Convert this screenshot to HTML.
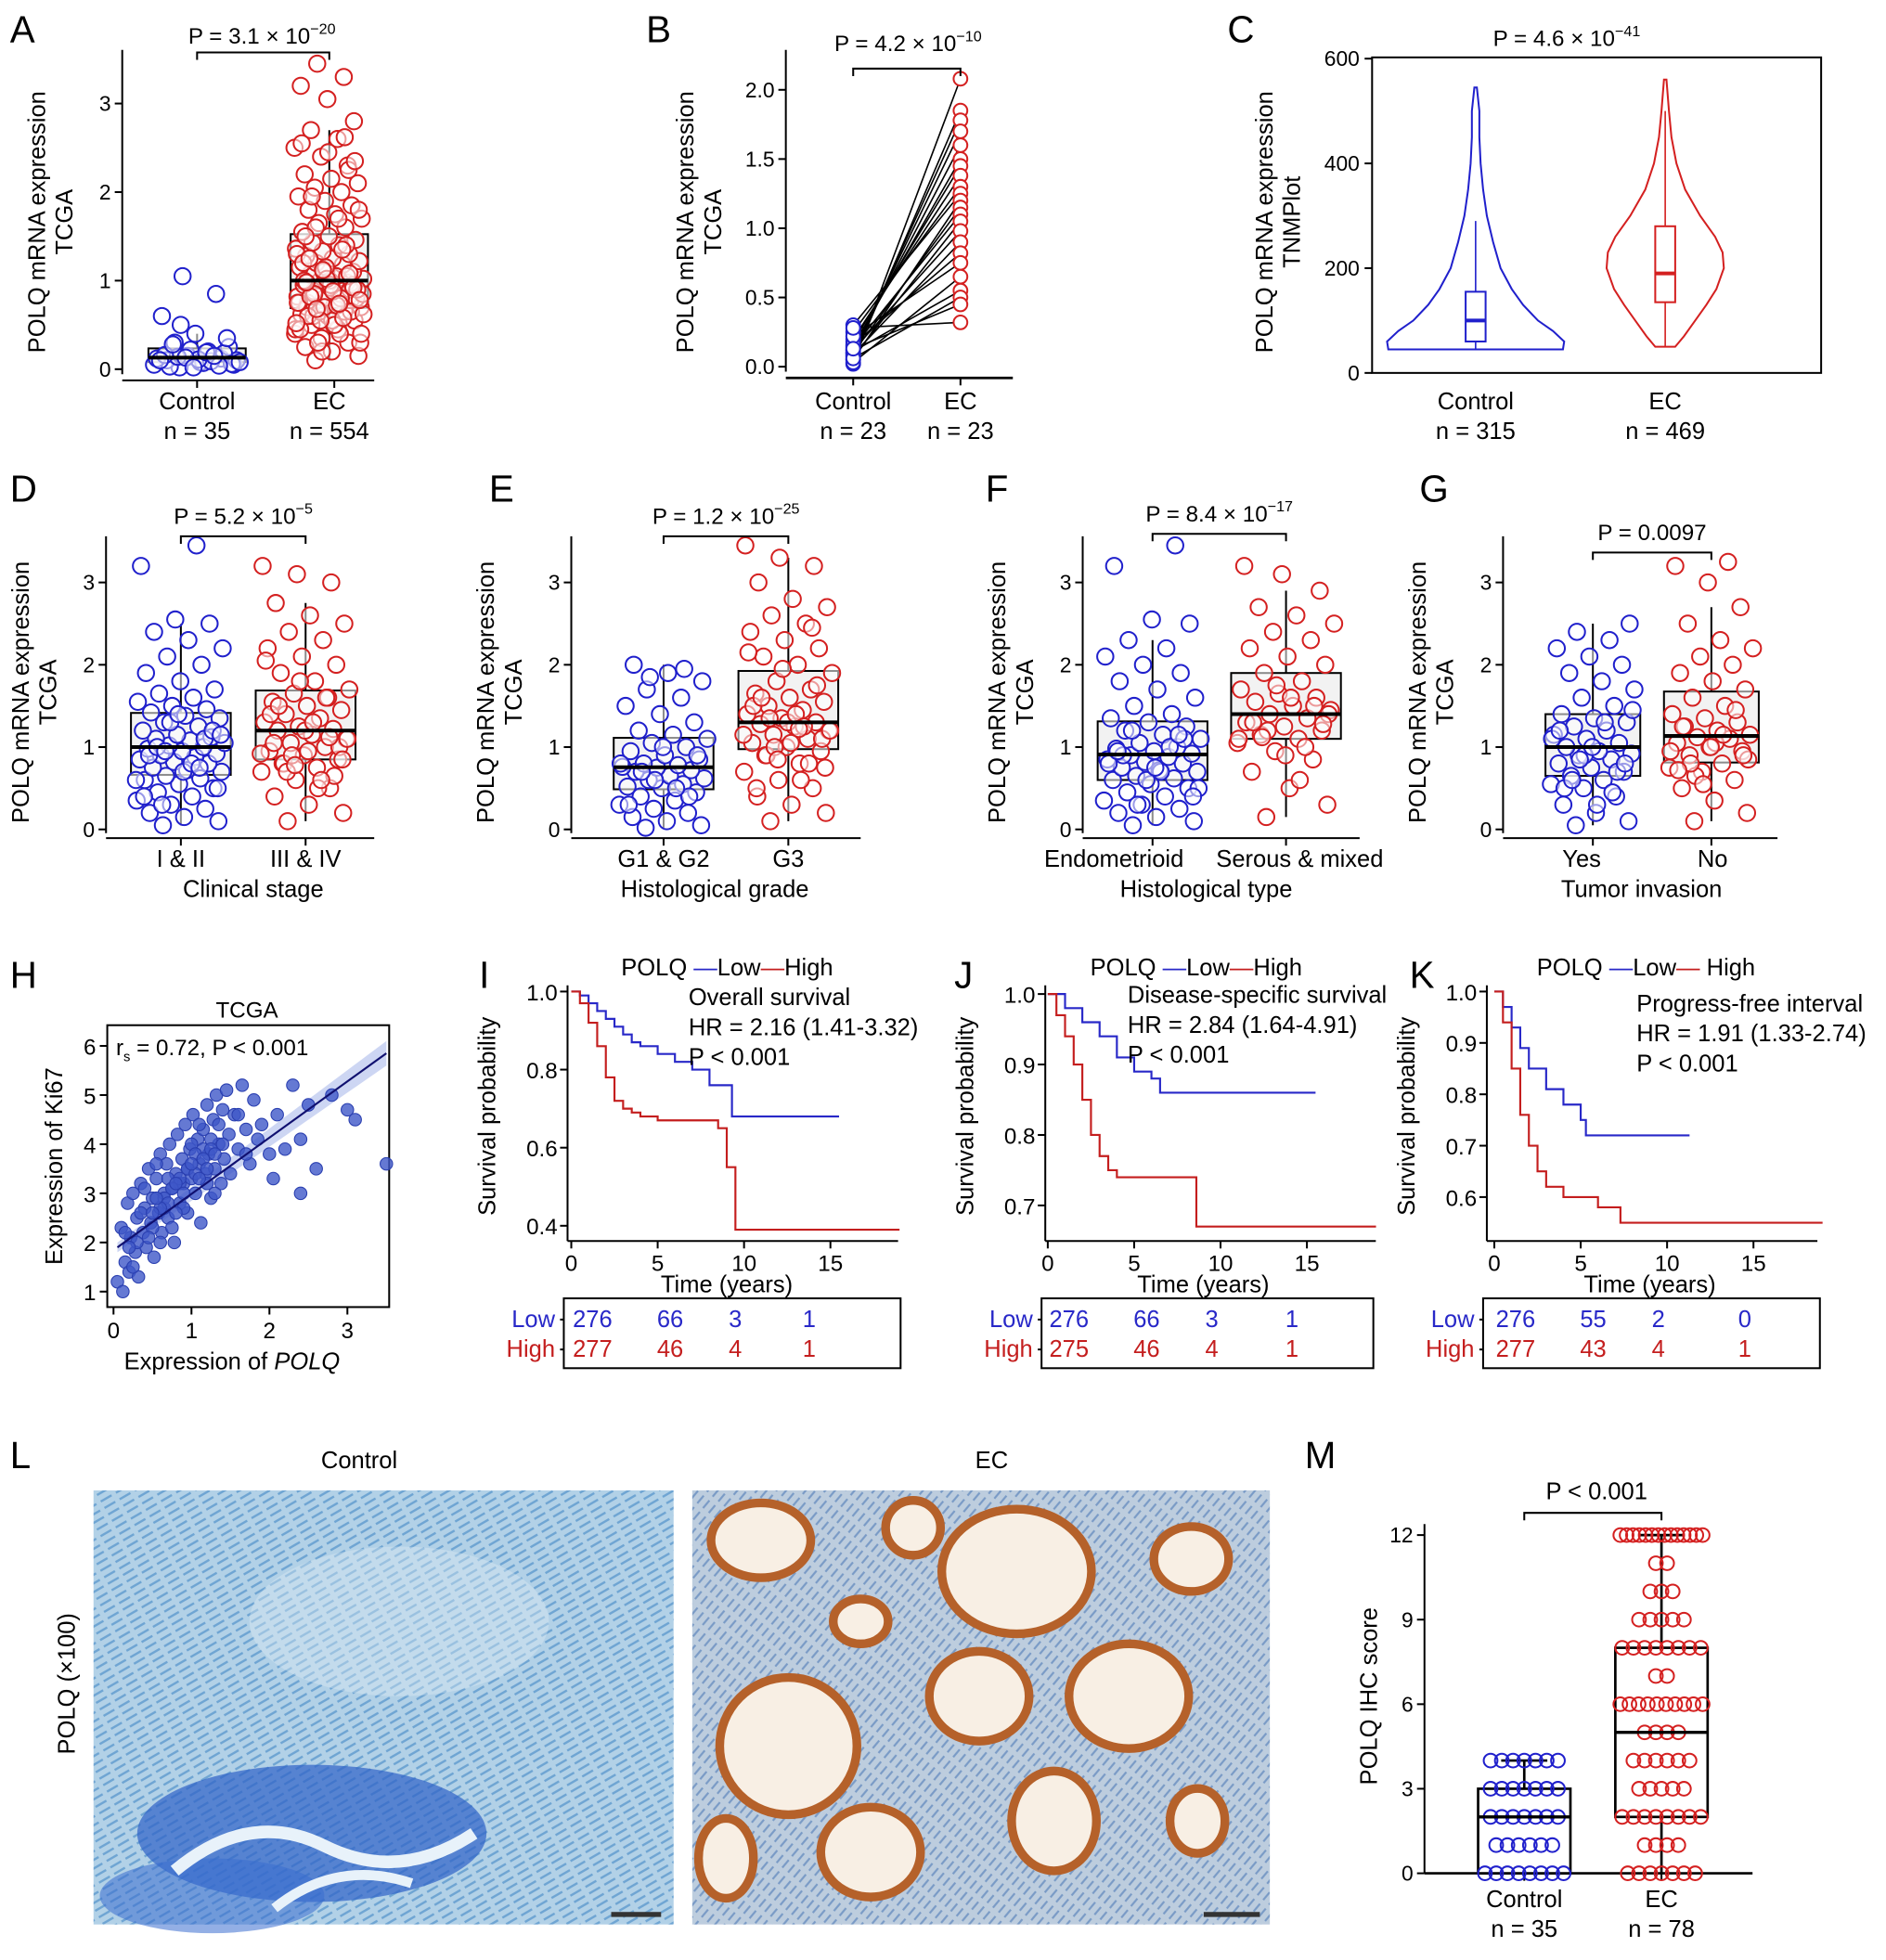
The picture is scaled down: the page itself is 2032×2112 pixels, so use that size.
<!DOCTYPE html>
<html><head><meta charset="utf-8">
<style>
html,body{margin:0;padding:0;background:#fff;}
svg{display:block;font-family:"Liberation Sans",Arial,sans-serif;}
</style></head>
<body>
<svg id="fig" width="2032" height="2112" viewBox="0 0 1512 1571.5" xmlns="http://www.w3.org/2000/svg">
<rect x="0" y="0" width="1512" height="1572" fill="#fff"/>
<g font-size="30" fill="#000">
<text x="8" y="34">A</text><text x="518" y="34">B</text><text x="984" y="34">C</text>
<text x="8" y="402">D</text><text x="392" y="402">E</text><text x="790" y="402">F</text><text x="1138" y="402">G</text>
<text x="8" y="792">H</text><text x="384" y="792">I</text><text x="765" y="792">J</text><text x="1130" y="792">K</text>
<text x="8" y="1177">L</text><text x="1046" y="1177">M</text>
</g>
<defs>
<pattern id="fib1" width="14" height="6" patternUnits="userSpaceOnUse" patternTransform="rotate(-30)">
<rect width="14" height="6" fill="#a8cbe3"/><line x1="0" y1="3" x2="10" y2="3" stroke="#4f90c8" stroke-width="1.8"/>
</pattern>
<pattern id="fib2" width="12" height="6" patternUnits="userSpaceOnUse" patternTransform="rotate(-50)">
<rect width="12" height="6" fill="#b4c6d8"/><line x1="0" y1="3" x2="8" y2="3" stroke="#5a82b8" stroke-width="1.6"/>
</pattern>
</defs>
<g>
<rect x="75" y="1195" width="465" height="348" fill="url(#fib1)"/>
<rect x="75" y="1195" width="465" height="348" fill="#cfe3f2" opacity="0.25"/>
<ellipse cx="250" cy="1470" rx="140" ry="55" fill="#2f63c8" opacity="0.7"/>
<ellipse cx="170" cy="1520" rx="90" ry="30" fill="#3b6ed0" opacity="0.55"/>
<path d="M140 1500 Q200 1450 260 1480 T380 1470" stroke="#e8f2fa" stroke-width="10" fill="none"/>
<path d="M220 1530 Q270 1490 330 1510" stroke="#e8f2fa" stroke-width="8" fill="none"/>
<ellipse cx="320" cy="1300" rx="120" ry="60" fill="#dceaf5" opacity="0.4"/>
<rect x="490" y="1533" width="40" height="4" fill="#333"/>
</g>
<g>
<rect x="555" y="1195" width="463" height="348" fill="url(#fib2)"/>
<rect x="555" y="1195" width="463" height="348" fill="#d6e2ee" opacity="0.25"/>
<g fill="#f8efe4" stroke="#b5612a" stroke-width="7">
<ellipse cx="610" cy="1235" rx="40" ry="30"/>
<ellipse cx="815" cy="1260" rx="60" ry="50"/>
<ellipse cx="785" cy="1360" rx="40" ry="36"/>
<ellipse cx="905" cy="1360" rx="48" ry="42"/>
<ellipse cx="632" cy="1400" rx="55" ry="55"/>
<ellipse cx="698" cy="1485" rx="40" ry="36"/>
<ellipse cx="845" cy="1460" rx="34" ry="40"/>
<ellipse cx="955" cy="1250" rx="30" ry="26"/>
<ellipse cx="582" cy="1490" rx="22" ry="32"/>
<ellipse cx="732" cy="1225" rx="22" ry="22"/>
<ellipse cx="690" cy="1300" rx="22" ry="18"/>
<ellipse cx="960" cy="1460" rx="22" ry="26"/>
</g>
<rect x="965" y="1533" width="45" height="4" fill="#333"/>
</g>
<g font-size="19">
<text x="288" y="1177" text-anchor="middle">Control</text>
<text x="795" y="1177" text-anchor="middle">EC</text>
<text transform="translate(60,1350) rotate(-90)" text-anchor="middle">POLQ (×100)</text>
</g>
<g id="layer"></g>
</svg>
<script>
// ---------- data ----------
const aControl = [0.02,0.05,0.08,0.1,0.12,0.15,0.05,0.2,0.3,0.25,0.4,0.6,0.85,1.05,0.1,0.07,0.03,0.18,0.22,0.12,0.09,0.14,0.06,0.11,0.16,0.04,0.13,0.08,0.19,0.28,0.35,0.02,0.1,0.15,0.5];
const aEC = [0.1,0.15,0.2,0.25,0.3,0.35,0.4,0.45,0.5,0.55,0.6,0.62,0.65,0.68,0.7,0.72,0.75,0.78,0.8,0.82,0.85,0.88,0.9,0.92,0.95,0.98,1.0,1.02,1.05,1.07,1.1,1.12,1.15,1.18,1.2,1.22,1.25,1.28,1.3,1.33,1.36,1.4,1.43,1.46,1.5,1.55,1.6,1.65,1.7,1.75,1.8,1.85,1.9,1.95,2.0,2.05,2.1,2.15,2.2,2.3,2.4,2.5,2.6,2.7,2.8,3.05,3.2,3.3,3.45,0.3,0.5,0.7,0.9,1.1,1.3,0.4,0.6,0.8,1.0,1.2,1.4,0.65,0.85,1.05,1.25,0.95,1.15,0.75,1.35,1.6,1.8,0.55,1.5,2.25,0.2,0.45,1.7,1.95,2.35,2.45,2.55,2.62,0.3,0.4,0.5,0.6,0.65,0.7,0.75,0.8,0.85,0.9,0.95,1.0,1.05,0.55,0.62,0.72,0.82,0.92,1.02,0.45,0.58,0.68,0.78,0.88,0.98,1.08,1.12,0.52,0.74];
const bControl = [0.02,0.05,0.08,0.1,0.12,0.15,0.18,0.2,0.25,0.3,0.05,0.1,0.14,0.07,0.12,0.09,0.16,0.22,0.03,0.11,0.06,0.13,0.28];
const bEC = [2.08,1.85,1.78,1.7,1.6,1.5,1.45,1.38,1.3,1.25,1.2,1.15,1.1,1.05,0.98,0.9,0.82,0.75,0.65,0.55,0.5,0.45,0.32];
const cLevels = [45,60,80,100,130,160,200,250,300,350,400,450,500,545];
const cCtrlWidth = [70,71,62,50,38,29,20,14,9,6,4,3,3,1];
const cLevelsEC = [50,70,100,130,160,200,230,260,300,350,400,450,500,560];
const cECWidth = [8,15,24,33,41,47,46,40,28,16,9,5,3,1];
const cCtrlStats = [45,60,100,155,290];
const cECStats = [50,135,190,280,500];
const dStage12 = [0.05,0.1,0.15,0.2,0.25,0.3,0.35,0.4,0.45,0.5,0.55,0.6,0.62,0.65,0.7,0.72,0.75,0.8,0.82,0.85,0.88,0.9,0.92,0.95,0.98,1.0,1.02,1.05,1.08,1.1,1.12,1.15,1.2,1.25,1.3,1.35,1.38,1.42,1.46,1.5,1.55,1.6,1.65,1.7,1.8,1.9,2.0,2.1,2.2,2.3,2.4,2.5,2.55,3.2,3.45,0.3,0.5,0.7,0.9,1.1,1.3,0.6,0.8,1.0,1.2,1.4,0.4,0.75,0.95,1.15];
const dStage34 = [0.1,0.2,0.3,0.4,0.5,0.6,0.7,0.75,0.8,0.85,0.9,0.95,1.0,1.05,1.1,1.15,1.2,1.22,1.25,1.3,1.35,1.4,1.45,1.5,1.55,1.6,1.65,1.7,1.8,1.9,2.0,2.1,2.2,2.3,2.4,2.5,2.6,2.75,3.0,3.1,3.2,0.5,0.8,1.0,1.2,1.4,1.6,0.9,1.1,1.3,1.5,0.65,1.8,2.05,0.6,0.7,0.85,0.95,1.05,1.12,0.78,0.92];
const eG12 = [0.02,0.05,0.1,0.15,0.2,0.25,0.3,0.35,0.4,0.45,0.5,0.52,0.55,0.6,0.62,0.65,0.7,0.72,0.75,0.76,0.78,0.8,0.85,0.9,0.95,1.0,1.05,1.1,1.15,1.2,1.3,1.4,1.5,1.6,1.7,1.8,1.9,2.0,0.4,0.6,0.8,0.5,0.7,0.9,1.0,0.3,1.95,1.85];
const eG3 = [0.1,0.2,0.3,0.4,0.5,0.6,0.7,0.8,0.9,0.95,1.0,1.05,1.1,1.15,1.2,1.25,1.28,1.3,1.35,1.4,1.45,1.5,1.55,1.6,1.65,1.7,1.8,1.9,2.0,2.1,2.2,2.3,2.4,2.5,2.6,2.7,2.8,3.0,3.2,3.3,3.45,0.6,0.9,1.1,1.3,1.5,0.8,1.0,1.2,1.4,1.6,1.75,1.95,2.15,1.25,1.35,0.75,1.05,0.5,2.45,0.85,1.15,1.22];
const fEndo = [0.05,0.1,0.15,0.2,0.25,0.3,0.35,0.4,0.45,0.5,0.55,0.6,0.62,0.65,0.7,0.72,0.75,0.8,0.82,0.85,0.88,0.9,0.92,0.95,0.98,1.0,1.05,1.1,1.15,1.2,1.25,1.3,1.35,1.4,1.5,1.6,1.7,1.8,1.9,2.0,2.1,2.2,2.3,2.5,2.55,3.2,3.45,0.3,0.5,0.7,0.9,1.1,0.6,0.8,1.0,1.2,0.4,0.75,0.95,1.15];
const fSerous = [0.15,0.3,0.5,0.7,0.85,0.95,1.05,1.1,1.15,1.2,1.25,1.3,1.35,1.4,1.45,1.5,1.55,1.6,1.65,1.7,1.8,1.9,2.0,2.1,2.2,2.3,2.4,2.5,2.6,2.7,2.9,3.1,3.2,1.0,1.2,1.4,1.6,1.3,1.5,1.75,1.1,0.6,1.12,1.28,0.9];
const gYes = [0.05,0.1,0.2,0.3,0.4,0.5,0.55,0.6,0.65,0.7,0.75,0.8,0.85,0.9,0.92,0.95,1.0,1.05,1.1,1.15,1.2,1.25,1.3,1.35,1.4,1.5,1.6,1.7,1.8,1.9,2.0,2.1,2.2,2.3,2.4,2.5,0.3,0.5,0.7,0.9,1.1,1.3,0.6,0.8,1.0,1.2,0.45,0.85,1.45];
const gNo = [0.1,0.2,0.35,0.5,0.6,0.7,0.75,0.8,0.9,0.95,1.0,1.05,1.1,1.12,1.15,1.2,1.25,1.3,1.35,1.4,1.5,1.6,1.7,1.8,1.9,2.0,2.1,2.2,2.3,2.5,2.7,3.0,3.2,3.25,0.65,0.85,1.05,1.25,1.45,0.55,0.95,1.15,0.8,0.9,1.0,0.72];
const hX = [0.05,0.1,0.12,0.15,0.18,0.2,0.22,0.25,0.28,0.3,0.32,0.35,0.38,0.4,0.42,0.45,0.48,0.5,0.52,0.55,0.58,0.6,0.62,0.65,0.68,0.7,0.72,0.75,0.78,0.8,0.82,0.85,0.88,0.9,0.92,0.95,0.98,1.0,1.02,1.05,1.08,1.1,1.12,1.15,1.18,1.2,1.22,1.25,1.28,1.3,1.32,1.35,1.38,1.4,1.42,1.45,1.48,1.5,1.55,1.6,1.65,1.7,1.75,1.8,1.85,1.9,2.0,2.1,2.2,2.3,2.4,2.5,2.6,2.8,3.0,3.1,3.5,0.3,0.5,0.7,0.9,1.1,1.3,0.4,0.6,0.8,1.0,1.2,0.35,0.55,0.75,0.95,1.15,1.35,0.45,0.65,0.85,1.05,1.25,1.6,0.2,0.15,0.25,2.05,2.4,1.7,0.85,0.95,1.05,1.15,0.75,0.65,1.25,1.0,0.9,1.1,0.7,0.6,0.8,1.2,1.3,1.4,0.5,0.55];
const hY = [1.2,2.3,1.0,1.6,2.8,1.4,2.1,3.0,1.8,2.5,1.3,3.2,2.2,2.7,1.9,3.5,2.4,2.9,1.7,3.3,2.6,3.8,2.2,3.0,3.6,2.5,4.0,3.1,2.0,3.4,4.2,2.8,3.7,3.2,4.4,2.6,3.9,3.3,4.6,3.0,4.1,3.6,2.4,4.3,3.4,4.8,3.8,2.9,4.5,3.5,5.0,4.0,3.2,4.7,3.7,5.1,4.2,3.4,4.6,3.9,5.2,4.3,3.6,4.9,4.1,4.4,3.8,4.6,3.9,5.2,4.1,4.8,3.5,5.0,4.7,4.5,3.6,2.0,2.3,3.3,2.7,4.4,3.0,3.1,2.0,2.6,4.0,3.2,2.6,3.6,2.3,3.5,3.9,4.4,2.1,2.7,3.2,3.8,4.1,4.6,1.9,2.2,1.5,3.3,3.0,3.8,3.3,3.5,3.4,3.7,3.1,2.9,3.9,3.6,3.0,3.3,2.8,2.7,3.2,3.5,3.8,4.0,2.6,2.9];
const survIlowT = [0,0.5,1,1.5,2,2.5,3,3.5,4,5,6,7,8,9.3,15.5];
const survIlowS = [1,0.99,0.97,0.95,0.93,0.91,0.89,0.87,0.86,0.84,0.82,0.80,0.76,0.68,0.68];
const survIhighT = [0,0.5,1,1.5,2,2.5,3,3.5,4,5,6,8.5,9,9.5,19];
const survIhighS = [1,0.97,0.92,0.86,0.78,0.72,0.70,0.69,0.68,0.67,0.67,0.65,0.55,0.39,0.39];
const survJlowT = [0,1,2,3,4,5,6,6.5,15.5];
const survJlowS = [1,0.98,0.96,0.94,0.91,0.89,0.88,0.86,0.86];
const survJhighT = [0,0.5,1,1.5,2,2.5,3,3.5,4,6,8.6,19];
const survJhighS = [1,0.97,0.94,0.9,0.85,0.8,0.77,0.75,0.74,0.74,0.67,0.67];
const survKlowT = [0,0.5,1,1.5,2,3,4,5,5.3,11.3];
const survKlowS = [1,0.97,0.93,0.89,0.85,0.81,0.78,0.75,0.72,0.72];
const survKhighT = [0,0.5,1,1.5,2,2.5,3,4,5,6,7.3,19];
const survKhighS = [1,0.94,0.85,0.76,0.70,0.65,0.62,0.60,0.60,0.58,0.55,0.55];
const riskI = [[276,66,3,1],[277,46,4,1]];
const riskJ = [[276,66,3,1],[275,46,4,1]];
const riskK = [[276,55,2,0],[277,43,4,1]];
const mScores = [0,1,2,3,4,5,6,7,8,9,10,11,12];
const mCtrlCounts = [8,6,7,7,7];
const mECCounts = [7,4,8,5,6,4,10,2,8,5,3,2,14];
const mCtrlStats = [0,0,2,3,4];
const mECStats = [0,2,5,8,12];

// ---------- helpers ----------
const NS = 'http://www.w3.org/2000/svg';
const layer = document.getElementById('layer');
function mk(tag, attrs, parent){
  const e = document.createElementNS(NS, tag);
  for (const k in attrs) e.setAttribute(k, attrs[k]);
  (parent || layer).appendChild(e);
  return e;
}
function nm(e, n){
  
  
  return e;
}
function txt(x, y, s, size, anchor, fill, name){
  const t = mk('text', {x:x, y:y, 'font-size':size, 'text-anchor':anchor||'middle', fill:fill||'#000'});
  t.textContent = s;
  nm(t, name);
  return t;
}
function ptext(x, y, base, exp, name){
  const t = mk('text', {x:x, y:y, 'font-size':18, 'text-anchor':'middle'});
  nm(t, name);
  const a = mk('tspan', {}, t); a.textContent = base;
  if (exp){ const b = mk('tspan', {dy:-8, 'font-size':12}, t); b.textContent = exp; }
  return t;
}
function vtitle(x, y, s, size, name){
  const t = mk('text', {transform:'translate('+x+','+y+') rotate(-90)', 'font-size':size, 'text-anchor':'middle'});
  t.textContent = s;
  nm(t, name);
}
function line(x1,y1,x2,y2,stroke,w,name){
  const l = mk('line', {x1:x1,y1:y1,x2:x2,y2:y2,stroke:stroke||'#000','stroke-width':w||1.5});
  nm(l, name);
  return l;
}
function frac(v){ return v - Math.floor(v); }
function yAxis(x, top, bottom, ticks, fy, name, labels){
  line(x, top, x, bottom, '#000', 1.5, name+'-line');
  ticks.forEach((t,i) => {
    line(x-6, fy(t), x, fy(t), '#000', 1.5, name+'-tick');
    txt(x-9, fy(t)+6, labels ? labels[i] : String(t), 17, 'end', '#000', name+'-label');
  });
}
function bracket(x1, x2, y, name){
  const p = mk('path', {d:'M'+x1+' '+(y+6)+'V'+y+'H'+x2+'V'+(y+6), stroke:'#000', fill:'none', 'stroke-width':1.5});
  nm(p, name);
}
function dots(vals, cx, jw, fy, color, name){
  vals.forEach((v,i) => {
    const c = mk('circle', {cx: cx + (frac(i*0.618034+0.3)-0.5)*jw, cy: fy(v), r:6.5, fill:'rgba(255,255,255,0.55)', stroke:color, 'stroke-width':1.5});
    
    
  });
}
function quant(vals, q){
  const s = vals.slice().sort((a,b)=>a-b);
  const p = (s.length-1)*q, lo = Math.floor(p), hi = Math.ceil(p);
  return s[lo] + (s[hi]-s[lo])*(p-lo);
}
function boxGroup(vals, cx, bw, fy, color, name){
  const q1 = quant(vals,0.25), med = quant(vals,0.5), q3 = quant(vals,0.75);
  const iqr = q3-q1;
  const s = vals.slice().sort((a,b)=>a-b);
  const lo = s.find(v => v >= q1-1.5*iqr), hi = s.slice().reverse().find(v => v <= q3+1.5*iqr);
  line(cx, fy(q3), cx, fy(hi), '#000', 1.5, name+'-whisker');
  line(cx, fy(q1), cx, fy(lo), '#000', 1.5, name+'-whisker');
  const r = mk('rect', {x:cx-bw/2, y:fy(q3), width:bw, height:fy(q1)-fy(q3), fill:'#f2f2f2', stroke:'#000', 'stroke-width':1.5});
  nm(r, name+'-box');
  dots(vals, cx, bw*0.9, fy, color, name+'-point');
  line(cx-bw/2, fy(med), cx+bw/2, fy(med), '#000', 3, name+'-median');
}
const BLUE = '#2020cc', RED = '#d42020';

// ---------- Panel A ----------
(function(){
  const fy = v => 296 - v*71;
  yAxis(98, 40, 300, [0,1,2,3], fy, 'a-y-axis');
  line(98, 305, 300, 305, '#000', 1.5, 'a-x-axis');
  line(158, 305, 158, 311, '#000', 1.5, 'a-x-tick');
  line(268, 305, 268, 311, '#000', 1.5, 'a-x-tick');
  boxGroup(aControl, 158, 78, fy, BLUE, 'a-control');
  boxGroup(aEC, 264, 62, fy, RED, 'a-ec');
  bracket(158, 264, 42, 'a-p-bracket');
  ptext(210, 35, 'P = 3.1 × 10', '−20', 'a-p-value');
  txt(158, 328, 'Control', 19, 'middle', '#000', 'a-x-label');
  txt(264, 328, 'EC', 19, 'middle', '#000', 'a-x-label');
  txt(158, 352, 'n = 35', 19, 'middle', '#000', 'a-n-label');
  txt(264, 352, 'n = 554', 19, 'middle', '#000', 'a-n-label');
  vtitle(36, 178, 'POLQ mRNA expression', 19, 'a-y-title');
  vtitle(58, 178, 'TCGA', 19, 'a-y-title');
})();

// ---------- Panel B ----------
(function(){
  const fy = v => 294 - v*111;
  yAxis(630, 40, 298, [0,0.5,1,1.5,2], fy, 'b-y-axis', ['0.0','0.5','1.0','1.5','2.0']);
  line(630, 303, 812, 303, '#000', 2, 'b-x-axis');
  line(684, 303, 684, 309, '#000', 1.5, 'b-x-tick');
  line(770, 303, 770, 309, '#000', 1.5, 'b-x-tick');
  bControl.forEach((v,i) => line(684, fy(v), 770, fy(bEC[i]), '#000', 1.2, 'b-pair-line'));
  bControl.forEach(v => { const c = mk('circle',{cx:684,cy:fy(v),r:5.5,fill:'#fff',stroke:BLUE,'stroke-width':1.5});   });
  bEC.forEach(v => { const c = mk('circle',{cx:770,cy:fy(v),r:5.5,fill:'#fff',stroke:RED,'stroke-width':1.5});   });
  bracket(684, 770, 55, 'b-p-bracket');
  ptext(728, 41, 'P = 4.2 × 10', '−10', 'b-p-value');
  txt(684, 328, 'Control', 19, 'middle', '#000', 'b-x-label');
  txt(770, 328, 'EC', 19, 'middle', '#000', 'b-x-label');
  txt(684, 352, 'n = 23', 19, 'middle', '#000', 'b-n-label');
  txt(770, 352, 'n = 23', 19, 'middle', '#000', 'b-n-label');
  vtitle(556, 178, 'POLQ mRNA expression', 19, 'b-y-title');
  vtitle(578, 178, 'TCGA', 19, 'b-y-title');
})();

// ---------- Panel C ----------
(function(){
  const fy = v => 299 - v*0.42;
  const fr = mk('rect',{x:1100,y:46,width:360,height:253,fill:'none',stroke:'#000','stroke-width':1.5});
  nm(fr,'c-frame');
  [0,200,400,600].forEach(t => { line(1094, fy(t), 1100, fy(t), '#000', 1.5, 'c-y-tick'); txt(1090, fy(t)+6, String(t), 17, 'end', '#000', 'c-y-label'); });
  function violin(levels, widths, cx, color, name){
    let d = 'M'+cx+' '+fy(levels[0]);
    levels.forEach((l,i)=>{ d += 'L'+(cx+widths[i])+' '+fy(l); });
    for (let i=levels.length-1;i>=0;i--) d += 'L'+(cx-widths[i])+' '+fy(levels[i]);
    d += 'Z';
    const p = mk('path',{d:d, fill:'none', stroke:color, 'stroke-width':1.5});
    nm(p, name);
  }
  function smallBox(st, cx, color, name){
    line(cx, fy(st[0]), cx, fy(st[4]), color, 1.2, name+'-whisker');
    const r = mk('rect',{x:cx-8,y:fy(st[3]),width:16,height:fy(st[1])-fy(st[3]),fill:'#fff',stroke:color,'stroke-width':1.5});
    nm(r, name+'-box');
    line(cx-8, fy(st[2]), cx+8, fy(st[2]), color, 3, name+'-median');
  }
  violin(cLevels, cCtrlWidth, 1183, BLUE, 'c-control-violin');
  violin(cLevelsEC, cECWidth, 1335, RED, 'c-ec-violin');
  smallBox(cCtrlStats, 1183, BLUE, 'c-control');
  smallBox(cECStats, 1335, RED, 'c-ec');
  ptext(1256, 37, 'P = 4.6 × 10', '−41', 'c-p-value');
  txt(1183, 328, 'Control', 19, 'middle', '#000', 'c-x-label');
  txt(1335, 328, 'EC', 19, 'middle', '#000', 'c-x-label');
  txt(1183, 352, 'n = 315', 19, 'middle', '#000', 'c-n-label');
  txt(1335, 352, 'n = 469', 19, 'middle', '#000', 'c-n-label');
  vtitle(1020, 178, 'POLQ mRNA expression', 19, 'c-y-title');
  vtitle(1042, 178, 'TNMPlot', 19, 'c-y-title');
})();

// ---------- Panels D-G ----------
function rowPanel(p){
  const fy = v => 665 - v*66;
  yAxis(p.ax, 430, 668, [0,1,2,3], fy, p.id+'-y-axis');
  line(p.ax, 672, p.ax2, 672, '#000', 1.5, p.id+'-x-axis');
  line(p.c1, 672, p.c1, 678, '#000', 1.5, p.id+'-x-tick');
  line(p.c2, 672, p.c2, 678, '#000', 1.5, p.id+'-x-tick');
  boxGroup(p.v1, p.c1, p.bw, fy, BLUE, p.id+'-group1');
  boxGroup(p.v2, p.c2, p.bw, fy, RED, p.id+'-group2');
  bracket(p.c1, p.c2, p.by, p.id+'-p-bracket');
  ptext((p.c1+p.c2)/2, p.by-10, p.pb, p.pe, p.id+'-p-value');
  txt(p.l1x||p.c1, 695, p.l1, 19, 'middle', '#000', p.id+'-x-label');
  txt(p.l2x||p.c2, 695, p.l2, 19, 'middle', '#000', p.id+'-x-label');
  txt(p.tx, 719, p.title, 19, 'middle', '#000', p.id+'-x-title');
  vtitle(p.ax-62, 555, 'POLQ mRNA expression', 19, p.id+'-y-title');
  vtitle(p.ax-40, 555, 'TCGA', 19, p.id+'-y-title');
}
rowPanel({id:'d', ax:85, ax2:300, c1:145, c2:245, bw:80, v1:dStage12, v2:dStage34, by:430, pb:'P = 5.2 × 10', pe:'−5', l1:'I & II', l2:'III & IV', tx:203, title:'Clinical stage'});
rowPanel({id:'e', ax:458, ax2:690, c1:532, c2:632, bw:80, v1:eG12, v2:eG3, by:430, pb:'P = 1.2 × 10', pe:'−25', l1:'G1 & G2', l2:'G3', tx:573, title:'Histological grade'});
rowPanel({id:'f', ax:868, ax2:1090, c1:924, c2:1031, bw:88, v1:fEndo, v2:fSerous, by:428, pb:'P = 8.4 × 10', pe:'−17', l1:'Endometrioid', l2:'Serous & mixed', l1x:893, l2x:1042, tx:967, title:'Histological type'});
rowPanel({id:'g', ax:1205, ax2:1425, c1:1277, c2:1372, bw:76, v1:gYes, v2:gNo, by:443, pb:'P = 0.0097', pe:'', l1:'Yes', l2:'No', l1x:1268, l2x:1373, tx:1316, title:'Tumor invasion'});

// ---------- Panel H ----------
(function(){
  const fx = v => 91 + v*62.5, fy = v => 1075 - v*39.4;
  const fr = mk('rect',{x:86,y:822,width:226,height:226,fill:'none',stroke:'#000','stroke-width':1.5}); nm(fr,'h-frame');
  [1,2,3,4,5,6].forEach(t=>{ line(80,fy(t),86,fy(t),'#000',1.5,'h-y-tick'); txt(77,fy(t)+7,String(t),18,'end','#000','h-y-label'); });
  [0,1,2,3].forEach(t=>{ line(fx(t),1048,fx(t),1054,'#000',1.5,'h-x-tick'); txt(fx(t),1073,String(t),18,'middle','#000','h-x-label'); });
  const band = mk('path',{d:'M'+fx(0.05)+' '+fy(2.0)+'L'+fx(3.5)+' '+fy(6.1)+'L'+fx(3.5)+' '+fy(5.6)+'L'+fx(0.05)+' '+fy(1.8)+'Z', fill:'#b8c4ee', opacity:0.7}); nm(band,'h-confidence-band');
  const n = Math.min(hX.length, hY.length);
  for (let i=0;i<n;i++){
    const c = mk('circle',{cx:fx(hX[i]),cy:fy(hY[i]),r:5,fill:'#3f58c8','fill-opacity':0.8,stroke:'#2a3fb0','stroke-width':0.8});
    
    
  }
  line(fx(0.05), fy(1.9), fx(3.5), fy(5.85), '#101070', 1.6, 'h-regression-line');
  txt(198, 816, 'TCGA', 18, 'middle', '#000', 'h-title');
  const t = mk('text',{x:93,y:846,'font-size':18}); nm(t,'h-correlation-text');
  const a = mk('tspan',{},t); a.textContent='r';
  const b = mk('tspan',{dy:5,'font-size':11},t); b.textContent='s';
  const c2 = mk('tspan',{dy:-5},t); c2.textContent=' = 0.72, P < 0.001';
  const xt = mk('text',{x:186,y:1098,'font-size':19,'text-anchor':'middle'}); nm(xt,'h-x-title');
  const x1 = mk('tspan',{},xt); x1.textContent='Expression of ';
  const x2 = mk('tspan',{'font-style':'italic'},xt); x2.textContent='POLQ';
  vtitle(50, 935, 'Expression of Ki67', 19, 'h-y-title');
})();

// ---------- Survival panels ----------
function survPanel(p){
  const fx = t => p.x0 + t*13.85, fy = s => p.ytop + (1-s)*p.k;
  line(p.ax, 790, p.ax, 995, '#000', 1.5, p.id+'-y-axis');
  line(p.ax, 995, p.ax+265, 995, '#000', 1.5, p.id+'-x-axis');
  p.yt.forEach((s,i)=>{ line(p.ax-6,fy(s),p.ax,fy(s),'#000',1.5,p.id+'-y-tick'); txt(p.ax-8,fy(s)+7,p.ytl[i],18,'end','#000',p.id+'-y-label'); });
  [0,5,10,15].forEach(t=>{ line(fx(t),995,fx(t),1001,'#000',1.5,p.id+'-x-tick'); txt(fx(t),1019,String(t),18,'middle','#000',p.id+'-x-label'); });
  function curve(T,S,color,name){
    let d = 'M'+fx(T[0])+' '+fy(S[0]);
    for (let i=1;i<T.length;i++) d += 'H'+fx(T[i])+'V'+fy(S[i]);
    const path = mk('path',{d:d,fill:'none',stroke:color,'stroke-width':1.6}); nm(path,name);
  }
  curve(p.lt,p.ls,'#2828c8',p.id+'-low-curve');
  curve(p.ht,p.hs,'#c41e1e',p.id+'-high-curve');
  txt(fx(9),1036,'Time (years)',19,'middle','#000',p.id+'-x-title');
  vtitle(p.ax-58, 895, 'Survival probability', 19, p.id+'-y-title');
  const lg = mk('text',{x:p.lgx,y:782,'font-size':19}); nm(lg,p.id+'-legend');
  const l1 = mk('tspan',{},lg); l1.textContent='POLQ ';
  const l2 = mk('tspan',{fill:'#2828c8'},lg); l2.textContent=p.lgsep+'—';
  const l3 = mk('tspan',{},lg); l3.textContent='Low';
  const l4 = mk('tspan',{fill:'#c41e1e'},lg); l4.textContent='—';
  const l5 = mk('tspan',{},lg); l5.textContent=p.lgsep2+'High';
  p.ann.forEach((s,i)=> txt(p.annx, p.anny+i*24, s, 19, 'start', '#000', p.id+'-annotation'));
  const box = mk('rect',{x:p.ax-3,y:1041,width:p.tw,height:56,fill:'none',stroke:'#000','stroke-width':1.5}); nm(box,p.id+'-risk-table');
  txt(p.ax-10,1064,'Low',19,'end','#2828c8',p.id+'-risk-low-label');
  txt(p.ax-10,1088,'High',19,'end','#c41e1e',p.id+'-risk-high-label');
  line(p.ax-6,1058,p.ax-3,1058,'#000',1.5,p.id+'-risk-tick');
  line(p.ax-6,1082,p.ax-3,1082,'#000',1.5,p.id+'-risk-tick');
  [0,5,10,15].forEach((t,i)=>{
    txt(fx(t)+p.rofs[i],1064,String(p.risk[0][i]),19,'middle','#2828c8',p.id+'-risk-low-value');
    txt(fx(t)+p.rofs[i],1088,String(p.risk[1][i]),19,'middle','#c41e1e',p.id+'-risk-high-value');
  });
}
survPanel({id:'i', ax:455, x0:458, ytop:795, k:313, yt:[1.0,0.8,0.6,0.4], ytl:['1.0','0.8','0.6','0.4'], lt:survIlowT, ls:survIlowS, ht:survIhighT, hs:survIhighS, lgx:498, lgsep:'', lgsep2:'', ann:['Overall survival','HR = 2.16 (1.41-3.32)','P < 0.001'], annx:552, anny:806, tw:270, risk:riskI, rofs:[17,10,-7,-17]});
survPanel({id:'j', ax:838, x0:840, ytop:797, k:565, yt:[1.0,0.9,0.8,0.7], ytl:['1.0','0.9','0.8','0.7'], lt:survJlowT, ls:survJlowS, ht:survJhighT, hs:survJhighS, lgx:874, lgsep:' ', lgsep2:'', ann:['Disease-specific survival','HR = 2.84 (1.64-4.91)','P < 0.001'], annx:904, anny:804, tw:266, risk:riskJ, rofs:[17,10,-7,-12]});
survPanel({id:'k', ax:1192, x0:1198, ytop:795, k:412, yt:[1.0,0.9,0.8,0.7,0.6], ytl:['1.0','0.9','0.8','0.7','0.6'], lt:survKlowT, ls:survKlowS, ht:survKhighT, hs:survKhighS, lgx:1232, lgsep:'', lgsep2:' ', ann:['Progress-free interval','HR = 1.91 (1.33-2.74)','P < 0.001'], annx:1312, anny:811, tw:270, risk:riskK, rofs:[17,10,-7,-7]});

// ---------- Panel M ----------
(function(){
  const fy = v => 1502 - v*22.6;
  yAxis(1142, 1222, 1502, [0,3,6,9,12], fy, 'm-y-axis');
  line(1142, 1502, 1405, 1502, '#000', 2, 'm-x-axis');
  line(1222, 1502, 1222, 1508, '#000', 1.5, 'm-x-tick');
  line(1332, 1502, 1332, 1508, '#000', 1.5, 'm-x-tick');
  function grp(counts, st, cx, bw, color, name){
    line(cx, fy(st[0]), cx, fy(st[4]), '#000', 2, name+'-whisker');
    line(cx-bw/4, fy(st[4]), cx+bw/4, fy(st[4]), '#000', 2, name+'-cap');
    const r = mk('rect',{x:cx-bw/2,y:fy(st[3]),width:bw,height:fy(st[1])-fy(st[3]),fill:'#fff',stroke:'#000','stroke-width':2}); nm(r,name+'-box');
    counts.forEach((n,s)=>{
      const sp = n > 1 ? Math.min(9, 66/(n-1)) : 0;
      for (let j=0;j<n;j++){
        const c = mk('circle',{cx:cx+(j-(n-1)/2)*sp,cy:fy(mScores[s]),r:5.5,fill:'none',stroke:color,'stroke-width':1.5});
        
        
      }
    });
    line(cx-bw/2, fy(st[2]), cx+bw/2, fy(st[2]), '#000', 2.5, name+'-median');
  }
  grp(mCtrlCounts, mCtrlStats, 1222, 74, BLUE, 'm-control');
  grp(mECCounts, mECStats, 1332, 74, RED, 'm-ec');
  bracket(1222, 1332, 1213, 'm-p-bracket');
  txt(1280, 1202, 'P < 0.001', 19, 'middle', '#000', 'm-p-value');
  txt(1222, 1529, 'Control', 19, 'middle', '#000', 'm-x-label');
  txt(1332, 1529, 'EC', 19, 'middle', '#000', 'm-x-label');
  txt(1222, 1553, 'n = 35', 19, 'middle', '#000', 'm-n-label');
  txt(1332, 1553, 'n = 78', 19, 'middle', '#000', 'm-n-label');
  vtitle(1104, 1360, 'POLQ IHC score', 19, 'm-y-title');
})();
</script>
</body></html>
